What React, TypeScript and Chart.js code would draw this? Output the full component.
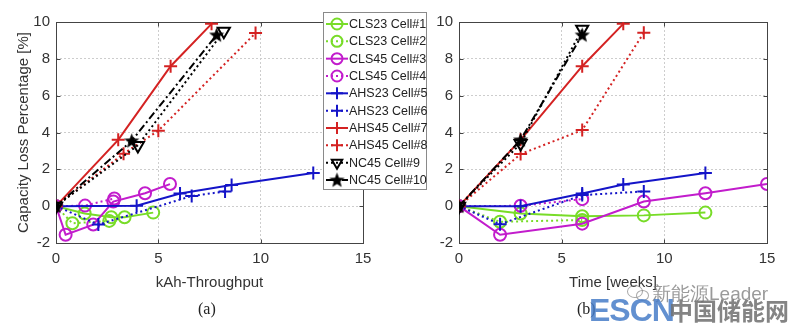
import React, { useEffect, useRef } from "react";
import { Chart, registerables } from "chart.js";
Chart.register(...registerables);

const cellLabels = [
  "CLS23 Cell#1", "CLS23 Cell#2", "CLS45 Cell#3", "CLS45 Cell#4", "AHS23 Cell#5",
  "AHS23 Cell#6", "AHS45 Cell#7", "AHS45 Cell#8", "NC45 Cell#9", "NC45 Cell#10",
];

const xTickValues = [0, 5, 10, 15];
const yTickValues = [-2, 0, 2, 4, 6, 8, 10];

// Panel (a): capacity loss [%] vs kAh-throughput
const kahCell1 = [[0, 0], [1.4, -0.4], [2.7, -0.6], [3.35, -0.6], [4.75, -0.35]];
const kahCell2 = [[0, 0], [0.8, -0.93], [2.6, -0.8]];
const kahCell3 = [[0, 0], [0.47, -1.55], [1.82, -1.0], [2.8, 0.25], [4.35, 0.7], [5.57, 1.2]];
const kahCell4 = [[0, 0], [1.42, 0.03], [2.85, 0.42]];
const kahCell5 = [[0, 0], [3.94, 0.02], [6.06, 0.69], [8.58, 1.15], [12.57, 1.8]];
const kahCell6 = [[0, 0], [2.07, -1.0], [6.63, 0.55], [8.26, 0.8]];
const kahCell7 = [[0, 0], [3.04, 3.6], [5.6, 7.6], [7.6, 9.9]];
const kahCell8 = [[0, 0], [3.3, 2.85], [5.0, 4.1], [9.75, 9.4]];
const kahCell9 = [[0, 0], [4.0, 3.3], [8.2, 9.5]];
const kahCell10 = [[0, 0], [3.7, 3.55], [7.85, 9.3]];

// Panel (b): capacity loss [%] vs time [weeks]
const wkCell1 = [[0, 0], [3, -0.4], [6, -0.55], [9, -0.5], [12, -0.35]];
const wkCell2 = [[0, 0], [2, -0.85], [6, -0.75]];
const wkCell3 = [[0, 0], [2, -1.55], [6, -0.95], [9, 0.25], [12, 0.7], [15, 1.2]];
const wkCell4 = [[0, 0], [3, 0.02], [6, 0.38]];
const wkCell5 = [[0, 0], [3, 0], [6, 0.69], [8, 1.18], [12, 1.8]];
const wkCell6 = [[0, 0], [2, -0.98], [6, 0.6], [9, 0.8]];
const wkCell7 = [[0, 0], [3, 3.6], [6, 7.6], [8, 9.9]];
const wkCell8 = [[0, 0], [3, 2.83], [6, 4.13], [9, 9.42]];
const wkCell9 = [[0, 0], [3, 3.4], [6, 9.6]];
const wkCell10 = [[0, 0], [3, 3.6], [6, 9.3]];

const kahSeries = [kahCell1, kahCell2, kahCell3, kahCell4, kahCell5, kahCell6, kahCell7, kahCell8, kahCell9, kahCell10];
const wkSeries = [wkCell1, wkCell2, wkCell3, wkCell4, wkCell5, wkCell6, wkCell7, wkCell8, wkCell9, wkCell10];

// styles
const GREEN = "#78dc28";
const MAGENTA = "#c21ccc";
const BLUE = "#1414c8";
const RED = "#d42222";
const BLACK = "#000000";
const cellColors = [GREEN, GREEN, MAGENTA, MAGENTA, BLUE, BLUE, RED, RED, BLACK, BLACK];
const cellDash = [[], [2, 3], [], [2, 3], [], [2, 3], [], [2, 3], [2, 3], [8, 3, 2, 3]];
const cellMarker = ["circle", "circle", "circle", "circle", "cross", "cross", "cross", "cross", "triangle", "star"];

const FONT = "'Liberation Sans', Arial, Helvetica, sans-serif";

function makeStar(size: number) {
  const c = document.createElement("canvas");
  c.width = size;
  c.height = size;
  const g = c.getContext("2d")!;
  g.fillStyle = "#000";
  g.beginPath();
  const cx = size / 2, cy = size / 2 + 0.5;
  for (let i = 0; i < 10; i++) {
    const ang = -Math.PI / 2 + (i * Math.PI) / 5;
    const r = i % 2 === 0 ? size / 2 - 0.5 : size / 5;
    const x = cx + r * Math.cos(ang);
    const y = cy + r * Math.sin(ang);
    if (i === 0) g.moveTo(x, y);
    else g.lineTo(x, y);
  }
  g.closePath();
  g.fill();
  return c;
}

function markerRadius(m: string) {
  if (m === "circle") return 6;
  if (m === "cross") return 6.5;
  if (m === "triangle") return 7;
  return 8;
}

function makeDatasets(series: number[][][], star: HTMLCanvasElement) {
  return series.map((pts, i) => {
    const m = cellMarker[i];
    return {
      label: cellLabels[i],
      data: pts.map(([x, y]) => ({ x, y })),
      showLine: true,
      borderColor: cellColors[i],
      backgroundColor: "rgba(0,0,0,0)",
      borderWidth: 2,
      borderDash: cellDash[i],
      pointStyle: m === "star" ? star : m,
      rotation: m === "triangle" ? 180 : 0,
      pointRadius: markerRadius(m),
      pointBorderWidth: 2,
      pointBorderColor: cellColors[i],
      pointBackgroundColor: "rgba(0,0,0,0)",
      tension: 0,
      order: 10 - i,
    };
  });
}

const framePlugin = {
  id: "frame",
  beforeDatasetsDraw(chart: any) {
    const { ctx, chartArea: a, scales } = chart;
    ctx.save();
    ctx.strokeStyle = "#444";
    ctx.lineWidth = 1;
    ctx.setLineDash([]);
    const l = Math.round(a.left) + 0.5, r = Math.round(a.right) + 0.5;
    const t = Math.round(a.top) + 0.5, b = Math.round(a.bottom) + 0.5;
    ctx.strokeRect(l, t, r - l, b - t);
    ctx.beginPath();
    for (const v of xTickValues) {
      const px = Math.round(scales.x.getPixelForValue(v)) + 0.5;
      ctx.moveTo(px, b); ctx.lineTo(px, b - 4);
      ctx.moveTo(px, t); ctx.lineTo(px, t + 4);
    }
    for (const v of yTickValues) {
      const py = Math.round(scales.y.getPixelForValue(v)) + 0.5;
      ctx.moveTo(l, py); ctx.lineTo(l + 4, py);
      ctx.moveTo(r, py); ctx.lineTo(r - 4, py);
    }
    ctx.stroke();
    ctx.restore();
  },
};

function drawLegendMarker(ctx: CanvasRenderingContext2D, m: string, x: number, y: number, color: string, star: HTMLCanvasElement) {
  ctx.save();
  ctx.setLineDash([]);
  ctx.strokeStyle = color;
  ctx.lineWidth = 2;
  if (m === "circle") {
    ctx.beginPath();
    ctx.arc(x, y, 5.5, 0, Math.PI * 2);
    ctx.stroke();
  } else if (m === "cross") {
    ctx.beginPath();
    ctx.moveTo(x - 6, y); ctx.lineTo(x + 6, y);
    ctx.moveTo(x, y - 6); ctx.lineTo(x, y + 6);
    ctx.stroke();
  } else if (m === "triangle") {
    const r = 6;
    ctx.beginPath();
    ctx.moveTo(x, y + r);
    ctx.lineTo(x - r * 0.87, y - r * 0.5);
    ctx.lineTo(x + r * 0.87, y - r * 0.5);
    ctx.closePath();
    ctx.stroke();
  } else {
    ctx.drawImage(star, x - star.width / 2, y - star.height / 2);
  }
  ctx.restore();
}

function makeLegendPlugin(star: HTMLCanvasElement) {
  return {
    id: "cellLegend",
    afterDraw(chart: any) {
      const ctx: CanvasRenderingContext2D = chart.ctx;
      const bx = 323.5, by = 12.5, bw = 103, bh = 177;
      ctx.save();
      ctx.fillStyle = "#ffffff";
      ctx.fillRect(bx, by, bw, bh);
      ctx.strokeStyle = "#8a8a8a";
      ctx.lineWidth = 1;
      ctx.strokeRect(bx, by, bw, bh);
      ctx.font = `12.5px ${FONT}`;
      ctx.textBaseline = "middle";
      ctx.textAlign = "left";
      chart.data.datasets.forEach((ds: any, i: number) => {
        const y = 24 + i * 17.33;
        ctx.save();
        ctx.strokeStyle = cellColors[i];
        ctx.lineWidth = 2;
        ctx.setLineDash(cellDash[i]);
        ctx.beginPath();
        ctx.moveTo(326, y);
        ctx.lineTo(348, y);
        ctx.stroke();
        ctx.restore();
        drawLegendMarker(ctx, cellMarker[i], 337, y, cellColors[i], star);
        ctx.fillStyle = "#222";
        ctx.fillText(ds.label, 349, y + 0.5);
      });
      ctx.restore();
    },
  };
}

function buildOptions(opts: { yWidth: number; padRight: number; xTitle: string; yTitle: string | null }) {
  return {
    responsive: false,
    maintainAspectRatio: false,
    animation: false as const,
    devicePixelRatio: 1,
    layout: { padding: { top: 22, right: opts.padRight, bottom: 0, left: 0 } },
    plugins: { legend: { display: false }, tooltip: { enabled: false } },
    scales: {
      x: {
        type: "linear" as const,
        min: 0,
        max: 15,
        afterFit: (s: any) => { s.height = 85; },
        afterBuildTicks: (s: any) => { s.ticks = xTickValues.map((v) => ({ value: v })); },
        ticks: { font: { size: 15, family: FONT }, color: "#333", padding: 7 },
        grid: { color: "#cdcdcd", lineWidth: 1, drawTicks: false },
        border: { display: false, dash: [2, 2] },
        title: {
          display: true,
          text: opts.xTitle,
          font: { size: 15, family: FONT },
          color: "#333",
          padding: { top: 0, bottom: 36 },
        },
      },
      y: {
        type: "linear" as const,
        min: -2,
        max: 10,
        afterFit: (s: any) => { s.width = opts.yWidth; },
        afterBuildTicks: (s: any) => { s.ticks = yTickValues.map((v) => ({ value: v })); },
        ticks: { font: { size: 15, family: FONT }, color: "#333", padding: 6 },
        grid: { color: "#cdcdcd", lineWidth: 1, drawTicks: false },
        border: { display: false, dash: [2, 2] },
        title: {
          display: !!opts.yTitle,
          text: opts.yTitle || "",
          font: { size: 15, family: FONT },
          color: "#333",
          padding: { top: 15, bottom: 0 },
        },
      },
    },
  };
}

export default function App() {
  const leftRef = useRef<HTMLCanvasElement>(null);
  const rightRef = useRef<HTMLCanvasElement>(null);

  useEffect(() => {
    const star = makeStar(17);
    const left = new Chart(leftRef.current!, {
      type: "scatter",
      data: { datasets: makeDatasets(kahSeries, star) as any },
      options: buildOptions({ yWidth: 56, padRight: 430 - 363, xTitle: "kAh-Throughput", yTitle: "Capacity Loss Percentage [%]" }) as any,
      plugins: [framePlugin, makeLegendPlugin(star)],
    });
    const right = new Chart(rightRef.current!, {
      type: "scatter",
      data: { datasets: makeDatasets(wkSeries, star) as any },
      options: buildOptions({ yWidth: 59, padRight: 33, xTitle: "Time [weeks]", yTitle: null }) as any,
      plugins: [framePlugin],
    });
    return () => {
      left.destroy();
      right.destroy();
    };
  }, []);

  return (
    <div style={{ position: "fixed", left: 0, top: 0, width: 800, height: 328, background: "#fff", overflow: "hidden" }}>
      <canvas ref={leftRef} width={430} height={328} style={{ position: "absolute", left: 0, top: 0, width: 430, height: 328 }} />
      <canvas ref={rightRef} width={400} height={328} style={{ position: "absolute", left: 400, top: 0, width: 400, height: 328 }} />
      <div style={{ position: "absolute", left: 198, top: 300, font: "16px 'Liberation Serif', 'Times New Roman', serif", color: "#222" }}>(a)</div>
      <div style={{ position: "absolute", left: 577, top: 300, font: "16px 'Liberation Serif', 'Times New Roman', serif", color: "#222" }}>(b)</div>
      <div style={{ position: "absolute", left: 627, top: 285, width: 14, height: 11, border: "1.5px solid rgba(130,130,130,0.7)", borderRadius: "50%" }} />
      <div style={{ position: "absolute", left: 636, top: 290, width: 11, height: 9, border: "1.5px solid rgba(130,130,130,0.7)", borderRadius: "50%" }} />
      <div style={{ position: "absolute", left: 652, top: 281, font: `19px ${FONT}`, color: "rgba(120,120,120,0.75)", whiteSpace: "nowrap" }}>新能源Leader</div>
      <div style={{ position: "absolute", left: 589, top: 292, font: `bold 32px ${FONT}`, color: "rgba(70,125,200,0.85)", whiteSpace: "nowrap", letterSpacing: -1 }}>ESCN</div>
      <div style={{ position: "absolute", left: 669, top: 295, font: "bold 24px 'Noto Sans CJK SC', sans-serif", color: "rgba(110,110,110,0.85)", whiteSpace: "nowrap", lineHeight: "30px" }}>中国储能网</div>
    </div>
  );
}
